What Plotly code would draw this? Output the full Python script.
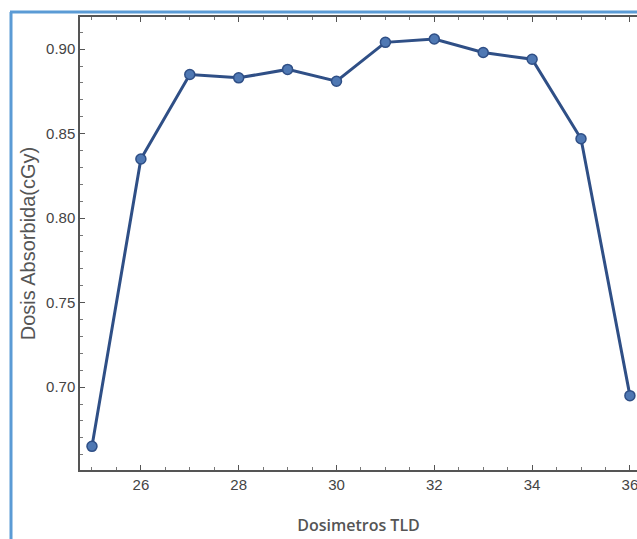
import plotly.graph_objects as go

dosimeters = [25, 26, 27, 28, 29, 30, 31, 32, 33, 34, 35, 36]
dose_cgy = [0.665, 0.835, 0.885, 0.883, 0.888, 0.881, 0.904, 0.906, 0.898, 0.894, 0.847, 0.695]

x_title = "Dosimetros TLD"
y_title = "Dosis Absorbida(cGy)"

W, H = 637, 539
L, R, T, B = 80, 0, 17, 69
pw, ph = W - L - R, H - T - B

def px_to_paper_x(px):
    return (px - L) / pw

def px_to_paper_y(py):
    return (H - B - py) / ph

fig = go.Figure()
fig.add_trace(go.Scatter(
    x=dosimeters, y=dose_cgy, mode="lines+markers",
    line=dict(color="#2f4f86", width=3),
    marker=dict(size=10, color="#4f78b3", line=dict(color="#2f4f86", width=1.5)),
    cliponaxis=False, showlegend=False,
))

axis_font = dict(family="Liberation Sans, Arial, sans-serif", size=15, color="#444")

fig.update_layout(
    width=W, height=H,
    margin=dict(l=L, r=R, t=T, b=B, pad=0),
    paper_bgcolor="white", plot_bgcolor="white",
    xaxis=dict(
        range=[24.755, 36.145], tick0=26, dtick=2,
        ticks="inside", ticklen=5, tickwidth=1, tickcolor="#555",
        showline=True, linecolor="#555", linewidth=1.5, mirror="ticks",
        showgrid=False, zeroline=False,
        minor=dict(dtick=0.5, ticks="inside", ticklen=3, tickcolor="#777", showgrid=False),
        tickfont=axis_font, ticklabeloverflow="allow",
        title=dict(text=x_title, font=dict(family="Open Sans, Liberation Sans, sans-serif", size=16, color="#555", weight=600), standoff=28),
    ),
    yaxis=dict(
        range=[0.651, 0.919], tick0=0.70, dtick=0.05, tickformat=".2f",
        ticks="inside", ticklen=5, tickwidth=1, tickcolor="#555",
        showline=True, linecolor="#555", linewidth=1.5,
        showgrid=False, zeroline=False,
        minor=dict(dtick=0.01, ticks="inside", ticklen=3, tickcolor="#777", showgrid=False),
        tickfont=axis_font,
        title=dict(text=y_title, font=dict(family="Liberation Sans, Arial, sans-serif", size=20, color="#555"), standoff=5),
    ),
    shapes=[
        dict(type="line", xref="paper", yref="paper",
             x0=px_to_paper_x(11), x1=px_to_paper_x(11),
             y0=px_to_paper_y(H), y1=px_to_paper_y(12),
             line=dict(color="#5b9bd5", width=3)),
        dict(type="line", xref="paper", yref="paper",
             x0=px_to_paper_x(10), x1=px_to_paper_x(W),
             y0=px_to_paper_y(12), y1=px_to_paper_y(12),
             line=dict(color="#5b9bd5", width=3)),
    ],
)

fig.write_html(
    "out.html",
    config={"displayModeBar": False},
    post_script=(
        "document.documentElement.style.overflow='hidden';"
        "document.body.style.margin='0';document.body.style.overflow='hidden';"
    ),
)
